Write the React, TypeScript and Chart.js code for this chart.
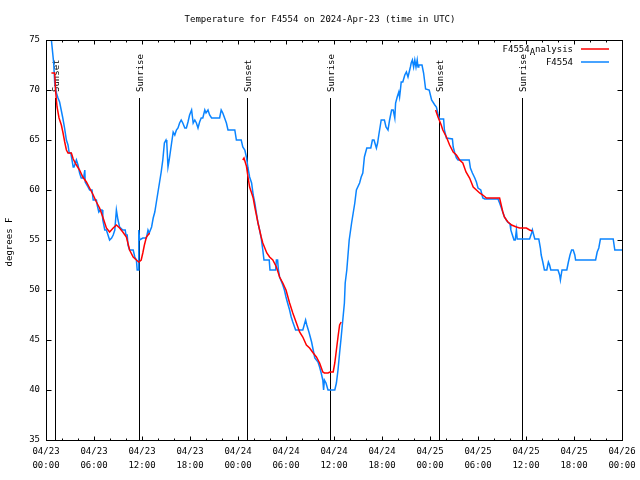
import React, { useEffect, useRef } from "react";
import { Chart, registerables } from "chart.js";
Chart.register(...registerables);

const titleText = "Temperature for F4554 on 2024-Apr-23 (time in UTC)";
const yAxisTitle = "degrees F";
const xTickDays = ["04/23", "04/23", "04/23", "04/23", "04/24", "04/24", "04/24", "04/24", "04/25", "04/25", "04/25", "04/25", "04/26"];
const xTickTimes = ["00:00", "06:00", "12:00", "18:00", "00:00", "06:00", "12:00", "18:00", "00:00", "06:00", "12:00", "18:00", "00:00"];
const yTicks = [35, 40, 45, 50, 55, 60, 65, 70, 75];

// hours since 04/23 00:00 UTC
const sunsetHours = [1.12, 25.13, 49.13];
const sunriseHours = [11.66, 35.53, 59.53];

const obsLabel = "F4554";
const anaLabel = "F4554_Analysis";

const obsHours = [
  0.55, 0.96, 1.09, 1.3, 1.5, 1.7, 1.9, 2.1, 2.3, 2.55, 2.75, 2.9, 3.1, 3.4, 3.5, 3.8, 4.0, 4.2, 4.4, 4.7,
  4.85, 4.9, 5.25, 5.45, 5.75, 5.9, 6.3, 6.4, 6.6, 6.8, 7.0, 7.1, 7.35, 7.55, 7.75, 7.95, 8.2, 8.4, 8.6, 8.8,
  9.0, 9.2, 9.6, 9.9, 10.0, 10.15, 10.25, 10.45, 10.9, 11.1, 11.3, 11.4, 11.55, 11.6, 11.7, 12.1, 12.55, 12.75, 12.9, 13.2,
  13.4, 13.6, 13.8, 14.0, 14.2, 14.4, 14.6, 14.8, 15.0, 15.1, 15.25, 15.4, 15.7, 15.9, 16.1, 16.3, 16.5, 16.7, 16.9, 17.1,
  17.35, 17.55, 17.75, 17.95, 18.2, 18.4, 18.6, 18.8, 19.0, 19.2, 19.4, 19.6, 19.85, 20.0, 20.25, 20.45, 20.7, 21.7, 21.9, 22.1,
  22.55, 22.75, 23.6, 23.8, 24.4, 24.6, 24.85, 25.05, 25.25, 25.45, 25.7, 25.9, 26.1, 26.3, 26.5, 26.7, 26.9, 27.1, 27.25, 27.9,
  28.0, 28.7, 28.8, 28.95, 29.05, 29.2, 29.45, 29.6, 29.8, 30.0, 30.2, 30.45, 30.65, 30.85, 31.2, 32.1, 32.45, 32.6, 32.9, 33.2,
  33.4, 33.6, 34.0, 34.2, 34.4, 34.6, 34.7, 34.8, 35.0, 35.25, 36.1, 36.3, 36.5, 36.7, 36.9, 37.1, 37.3, 37.4, 37.6, 37.9,
  38.2, 38.4, 38.6, 38.8, 39.2, 39.4, 39.6, 39.8, 40.1, 40.6, 40.8, 41.0, 41.3, 41.45, 41.6, 41.8, 41.9, 42.3, 42.5, 42.75,
  42.95, 43.2, 43.4, 43.6, 43.7, 43.9, 44.1, 44.2, 44.3, 44.4, 44.6, 44.85, 45.05, 45.25, 45.4, 45.55, 45.65, 45.8, 45.95, 46.1,
  46.25, 46.4, 46.5, 46.6, 47.0, 47.2, 47.45, 47.9, 48.05, 48.2, 48.6, 48.8, 49.0, 49.2, 49.7, 49.8, 50.05, 50.8, 50.9, 51.1,
  51.3, 51.5, 52.9, 53.05, 53.3, 53.6, 53.8, 54.0, 54.35, 54.6, 54.85, 56.5, 56.7, 57.1, 57.3, 57.7, 58.0, 58.1, 58.3, 58.5,
  58.65, 58.8, 58.9, 60.45, 60.7, 60.8, 61.1, 61.6, 61.8, 61.9, 62.1, 62.3, 62.6, 62.8, 62.95, 63.1, 64.0, 64.2, 64.3, 64.4,
  64.5, 65.1, 65.3, 65.5, 65.7, 65.9, 66.1, 66.2, 68.7, 68.9, 69.1, 69.3, 70.9, 71.1, 72.0,
];
const obsTemps = [
  76, 72.7, 70.7, 69.7, 69.2, 68.8, 68, 67.2, 66.3, 65, 64.5, 63.7, 63.7, 62.3, 62.3, 63, 62.5, 61.7, 61.2, 61.2,
  62, 60.8, 60.3, 60, 60, 59, 59, 58.5, 57.8, 58, 58, 57, 56, 56, 55.5, 55, 55.2, 55.5, 56, 58,
  57, 56.3, 56, 56, 55.5, 55.5, 54.5, 54, 54, 53.3, 53, 52, 52, 56, 55, 55.2, 55.2, 56, 55.7, 56.3,
  57.2, 57.8, 58.8, 59.8, 60.8, 61.8, 63, 64.7, 65, 64.7, 62.3, 63, 64.7, 65.8, 65.5, 66, 66.2, 66.7, 67, 66.7,
  66.2, 66.2, 66.8, 67.5, 68, 66.7, 67, 66.7, 66.2, 66.8, 67.2, 67.2, 68, 67.7, 68, 67.5, 67.2, 67.2, 68, 67.7,
  66.7, 66, 66, 65, 65, 64.3, 64, 63.3, 62.2, 61.3, 60.7, 59.5, 58.7, 57.7, 56.7, 56, 55.2, 54, 53, 53,
  52, 52, 53, 53, 52, 51.3, 50.8, 50.5, 50, 49.3, 48.7, 48, 47.3, 46.8, 46, 46, 47, 46.5, 45.7, 44.8,
  44, 43.2, 42.8, 42.3, 41.7, 41, 40, 41, 40.7, 40, 40, 40.7, 42, 43.7, 45.3, 47, 48.7, 50.7, 52, 55,
  56.7, 57.7, 58.7, 60, 60.7, 61.3, 61.7, 63.3, 64.2, 64.2, 65, 65, 64.2, 64.7, 65.5, 66.5, 67, 67, 66.3, 66,
  67, 68, 68, 67.2, 68.7, 69.3, 69.8, 69.3, 70, 70.8, 70.8, 71.5, 71.8, 71.3, 71.8, 72.3, 72.7, 73, 72.3, 73,
  72.3, 73, 72.3, 72.5, 72.5, 71.7, 70.1, 70, 69.5, 69, 68.5, 68.3, 67.6, 67.1, 67.1, 66, 65.2, 65.1, 64.3, 63.7,
  63.2, 63, 63, 62.2, 61.7, 61.2, 60.8, 60.2, 60, 59.2, 59.1, 59.1, 58.7, 57.8, 57.3, 56.8, 56.6, 56, 55.5, 55,
  55, 56, 55.1, 55.1, 55.7, 56, 55.1, 55.1, 54.2, 53.5, 52.8, 52, 52, 52.8, 52.5, 52, 52, 51.5, 51, 51.5,
  52, 52, 52.8, 53.5, 54, 54, 53.5, 53, 53, 53.8, 54.2, 55.1, 55.1, 54, 54,
];

const anaHours = [
  0.68, 1.09, 1.21, 1.38, 1.63, 1.92, 2.13, 2.34, 2.55, 2.75, 3.17, 3.4, 3.8, 4.2, 4.6, 5.05, 5.45, 5.9, 6.3, 6.7,
  7.1, 7.55, 7.95, 8.4, 8.8, 9.2, 9.6, 10.05, 10.45, 10.9, 11.3, 11.6, 11.9, 12.1, 12.3, 12.55, 12.95, 13.5,
  24.6, 24.75, 25.05, 25.25, 25.45, 25.7, 25.9, 26.1, 26.3, 26.5, 26.7, 26.9, 27.1, 27.35, 27.6, 27.95, 28.35, 28.8, 29.2, 29.6,
  30.0, 30.45, 30.85, 31.3, 31.7, 32.1, 32.55, 32.95, 33.4, 33.8, 34.2, 34.6, 34.8, 35.25, 35.5, 35.9, 36.1, 36.3, 36.5, 36.7, 36.9, 37.5,
  48.7, 49.0, 49.4, 49.6, 50.05, 50.45, 50.9, 51.3, 51.7, 52.1, 52.5, 52.95, 53.4, 53.8, 54.2, 54.6, 55.05, 56.7, 56.9, 57.1,
  57.3, 57.55, 57.75, 58.2, 58.8, 59.2, 60.05, 60.45, 60.8,
];
const anaTemps = [
  71.7, 71.7, 69.8, 68.3, 67.2, 66.5, 65.7, 64.8, 64.0, 63.7, 63.7, 63.1, 62.5, 62, 61.3, 60.8, 60.2, 59.5, 58.8, 58.2,
  57.3, 56.2, 55.8, 56.2, 56.5, 56.2, 55.8, 55.3, 54, 53.3, 53, 52.8, 53, 53.7, 54.5, 55.3, 55.7, null,
  63, 63.2, 62.4, 61.3, 60.3, 59.7, 59.2, 58.3, 57.5, 56.7, 56, 55.3, 54.7, 54.2, 53.7, 53.3, 53, 52.3, 51.3, 50.7,
  50, 48.7, 47.7, 46.7, 45.8, 45.3, 44.5, 44.2, 43.7, 43.3, 42.7, 41.8, 41.7, 41.7, 41.8, 41.8, 42.7, 44, 45.3, 46.5, 46.8, null,
  68, 67.3, 66.5, 66, 65.3, 64.5, 63.8, 63.5, 63, 62.7, 61.8, 61.2, 60.3, 60, 59.7, 59.5, 59.2, 59.2, 58.5, 57.8,
  57.3, 57, 56.8, 56.5, 56.3, 56.2, 56.2, 56, 55.9,
];

const obsColor = "#0a84ff";
const anaColor = "#ff0000";
const FONT_FAMILY = '"DejaVu Sans Mono", monospace';
const FONT = `9px ${FONT_FAMILY}`;

const decorPlugin = {
  id: "decor",
  beforeDatasetsDraw(chart: any) {
    const { ctx, chartArea, scales } = chart;
    const x = scales.x;
    ctx.save();
    ctx.strokeStyle = "#000";
    ctx.fillStyle = "#000";
    ctx.lineWidth = 1;
    ctx.font = FONT;
    const events: [number, string][] = [
      ...sunsetHours.map((h) => [h, "Sunset"] as [number, string]),
      ...sunriseHours.map((h) => [h, "Sunrise"] as [number, string]),
    ];
    for (const [h, label] of events) {
      const px = Math.round(x.getPixelForValue(h)) + 0.5;
      ctx.beginPath();
      ctx.moveTo(px, chartArea.top + 58);
      ctx.lineTo(px, chartArea.bottom);
      ctx.stroke();
      ctx.save();
      ctx.translate(px + 1, chartArea.top + 52);
      ctx.rotate(-Math.PI / 2);
      ctx.textAlign = "left";
      ctx.textBaseline = "middle";
      ctx.fillText(label, 0, 0);
      ctx.restore();
    }
    ctx.restore();
  },
  afterDraw(chart: any) {
    const { ctx, chartArea, scales } = chart;
    const { left, right, top, bottom } = chartArea;
    const x = scales.x;
    const y = scales.y;
    ctx.save();
    ctx.strokeStyle = "#000";
    ctx.lineWidth = 1;
    ctx.strokeRect(left + 0.5, top + 0.5, right - left, bottom - top);
    ctx.beginPath();
    for (let h = 0; h <= 72; h += 2) {
      const px = Math.round(x.getPixelForValue(h)) + 0.5;
      const len = h % 6 === 0 ? 4 : 2;
      ctx.moveTo(px, bottom + 0.5);
      ctx.lineTo(px, bottom + 0.5 - len);
      ctx.moveTo(px, top + 0.5);
      ctx.lineTo(px, top + 0.5 + len);
    }
    for (const v of yTicks) {
      const py = Math.round(y.getPixelForValue(v)) + 0.5;
      ctx.moveTo(left + 0.5, py);
      ctx.lineTo(left + 5.5, py);
      ctx.moveTo(right + 0.5, py);
      ctx.lineTo(right - 4.5, py);
    }
    ctx.stroke();

    ctx.fillStyle = "#000";
    ctx.font = FONT;
    ctx.textAlign = "center";
    ctx.textBaseline = "middle";
    ctx.fillText(titleText, 320, 20);

    ctx.save();
    ctx.translate(10, (top + bottom) / 2 + 2);
    ctx.rotate(-Math.PI / 2);
    ctx.fillText(yAxisTitle, 0, 0);
    ctx.restore();

    // legend
    const textRight = right - 49;
    const lineX0 = right - 41;
    const lineX1 = right - 13;
    const rowY1 = top + 10;
    const rowY2 = top + 23;
    ctx.textAlign = "right";
    // "F4554_Analysis" with gnuplot-style lowered "A"
    const parts = anaLabel.split("_");
    const rest = parts[1].slice(1);
    const sub = parts[1].slice(0, 1);
    const wRest = ctx.measureText(rest).width;
    const wSub = ctx.measureText(sub).width;
    ctx.fillText(rest, textRight, rowY1);
    ctx.fillText(sub, textRight - wRest, rowY1 + 3);
    ctx.fillText(parts[0], textRight - wRest - wSub, rowY1);
    ctx.fillText(obsLabel, textRight, rowY2);
    ctx.lineWidth = 1.5;
    ctx.strokeStyle = anaColor;
    ctx.beginPath();
    ctx.moveTo(lineX0, rowY1 - 1);
    ctx.lineTo(lineX1, rowY1 - 1);
    ctx.stroke();
    ctx.strokeStyle = obsColor;
    ctx.beginPath();
    ctx.moveTo(lineX0, rowY2 - 1);
    ctx.lineTo(lineX1, rowY2 - 1);
    ctx.stroke();
    ctx.restore();
  },
};

export default function App() {
  const canvasRef = useRef<HTMLCanvasElement | null>(null);
  useEffect(() => {
    if (!canvasRef.current) return;
    const chart = new Chart(canvasRef.current, {
      type: "line",
      data: {
        datasets: [
          {
            label: anaLabel,
            data: anaHours.map((h, i) => ({ x: h, y: anaTemps[i] })) as any,
            borderColor: anaColor,
            borderWidth: 1.5,
            pointRadius: 0,
            tension: 0,
            spanGaps: false,
          },
          {
            label: obsLabel,
            data: obsHours.map((h, i) => ({ x: h, y: obsTemps[i] })) as any,
            borderColor: obsColor,
            borderWidth: 1.5,
            pointRadius: 0,
            tension: 0,
          },
        ],
      },
      options: {
        animation: false,
        responsive: false,
        devicePixelRatio: 1,
        layout: { padding: { top: 40, right: 18, left: 0, bottom: 0 } },
        plugins: { legend: { display: false }, title: { display: false }, tooltip: { enabled: false } },
        scales: {
          x: {
            type: "linear",
            min: 0,
            max: 72,
            grid: { display: false, drawTicks: false },
            border: { display: false },
            afterFit: (scale: any) => {
              scale.height = 40;
            },
            ticks: {
              stepSize: 6,
              autoSkip: false,
              maxRotation: 0,
              padding: 4,
              color: "#000",
              font: { family: FONT_FAMILY, size: 9, lineHeight: 1.6 },
              callback: (value: any) => {
                const i = Math.round(Number(value) / 6);
                return [xTickDays[i], xTickTimes[i]];
              },
            },
          },
          y: {
            type: "linear",
            min: 35,
            max: 75,
            grid: { display: false, drawTicks: false },
            border: { display: false },
            afterFit: (scale: any) => {
              scale.width = 46;
            },
            ticks: {
              stepSize: 5,
              padding: 6,
              color: "#000",
              font: { family: FONT_FAMILY, size: 9 },
            },
          },
        },
      },
      plugins: [decorPlugin],
    });
    return () => chart.destroy();
  }, []);
  return (
    <div style={{ position: "absolute", left: 0, top: 0, width: 640, height: 480, background: "#fff" }}>
      <canvas ref={canvasRef} width={640} height={480} />
    </div>
  );
}
